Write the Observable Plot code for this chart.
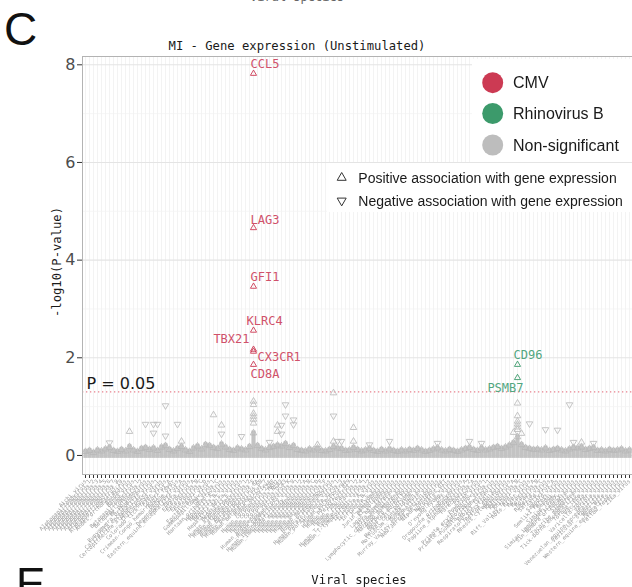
<!DOCTYPE html>
<html><head><meta charset="utf-8">
<script src="https://cdn.jsdelivr.net/npm/d3@7"></script>
<script src="https://cdn.jsdelivr.net/npm/@observablehq/plot@0.6"></script>
<style>
html,body{margin:0;padding:0;background:#fff;overflow:hidden;width:632px;height:587px;}
#wrap{position:relative;width:632px;height:587px;overflow:hidden;}
#wrap > svg{position:absolute;left:0;top:0;}
.abs{position:absolute;white-space:nowrap;line-height:1;}
</style></head><body><div id="wrap"></div>
<script>
// ---------- data ----------
const species = [
"Aichi_virus","Alphapapillomavirus_1","Alphapapillomavirus_2","Alphapapillomavirus_3","Alphapapillomavirus_4",
"Alphapapillomavirus_5","Alphapapillomavirus_6","Alphapapillomavirus_7","Alphapapillomavirus_9","Alphapapillomavirus_10",
"Andes_orthohantavirus","Bandavirus","Banna_virus","Betapapillomavirus_1","Betapapillomavirus_2",
"BK_polyomavirus","Bunyamwera_orthobunyavirus","California_encephalitis_virus","Cercopithecine_alphaherpesvirus_1","Chikungunya_virus",
"Colorado_tick_fever_virus","Cosavirus_A","Crimean-Congo_hemorrhagic_fever","Dengue_virus","Dependoparvovirus_A",
"Eastern_equine_encephalitis_virus","Ebola_virus","Enterovirus_A","Enterovirus_B","Enterovirus_C",
"Enterovirus_D","Epstein-Barr_virus","Gammapapillomavirus_1","GB_virus_C","Hantaan_orthohantavirus",
"Hepatitis_A_virus","Hepatitis_B_virus","Hepatitis_C_virus","Hepatitis_delta_virus","Hepatitis_E_virus",
"Human_alphaherpesvirus_1","Human_alphaherpesvirus_2","Human_betaherpesvirus_5","Human_betaherpesvirus_6A","Human_betaherpesvirus_6B",
"Human_betaherpesvirus_7","Human_bocavirus","Human_coronavirus_229E","Human_coronavirus_HKU1","Human_coronavirus_NL63",
"Human_coronavirus_OC43","Human_endogenous_retrovirus_K","Human_gammaherpesvirus_8","Human_immunodeficiency_virus_1","Human_immunodeficiency_virus_2",
"Human_mastadenovirus_A","Human_mastadenovirus_B","Human_mastadenovirus_C","Human_mastadenovirus_D","Human_mastadenovirus_E",
"Human_mastadenovirus_F","Human_metapneumovirus","Human_orthopneumovirus","Human_parainfluenza_virus_1","Human_parainfluenza_virus_3",
"Human_parechovirus","Human_parvovirus_B19","Human_respirovirus_1","Human_rubulavirus_2","Human_rubulavirus_4",
"Human_T-lymphotropic_virus_1","Human_T-lymphotropic_virus_2","Influenza_A_virus","Influenza_B_virus","Influenza_C_virus",
"JC_polyomavirus","Junin_mammarenavirus","KI_polyomavirus","Lagos_bat_lyssavirus","Lassa_mammarenavirus",
"Lymphocytic_choriomeningitis_virus","Machupo_mammarenavirus","Marburg_marburgvirus","Measles_morbillivirus","Merkel_cell_polyomavirus",
"Molluscum_contagiosum_virus","Mumps_rubulavirus","Murray_Valley_encephalitis_virus","New_Jersey_vesiculovirus","Nipah_henipavirus",
"Norovirus_GII","Norwalk_virus","O'nyong-nyong_virus","Orf_virus","Oropouche_orthobunyavirus",
"Orthohepevirus_A","Papiine_alphaherpesvirus_2","Parechovirus_A","Poliovirus","Powassan_virus",
"Primate_erythroparvovirus_1","Primate_T-lymphotropic_virus_1","Puumala_orthohantavirus","Rabies_lyssavirus","Respiratory_syncytial_virus",
"Reston_ebolavirus","Rhesus_cytomegalovirus","Rhinovirus_A","Rhinovirus_B","Rhinovirus_C",
"Rift_Valley_fever_virus","Ross_River_virus","Rotavirus_A","Rotavirus_B","Rotavirus_C",
"Rubella_virus","Saffold_virus","Salivirus_A","Sapporo_virus","Semliki_Forest_virus",
"Sendai_virus","Simian_foamy_virus","Simian_immunodeficiency_virus","Sin_Nombre_orthohantavirus","Sindbis_virus",
"Tacaribe_mammarenavirus","Tick-borne_encephalitis_virus","Torque_teno_virus","Vaccinia_virus","Varicella-zoster_virus",
"Variola_virus","Venezuelan_equine_encephalitis_virus","Vesicular_stomatitis_virus","West_Nile_virus","Western_equine_encephalitis_virus",
"Yellow_fever_virus","Zika_virus"
];

// top of the dense cloud of non-significant genes for each species (-log10 P)
const bandTop = [
0.12,0.14,0.10,0.15,0.13,0.17,0.20,0.14,0.12,0.16,
0.13,0.22,0.15,0.12,0.18,0.20,0.16,0.19,0.14,0.21,
0.24,0.16,0.13,0.18,0.22,0.15,0.12,0.19,0.23,0.17,
0.26,0.24,0.20,0.18,0.27,0.21,0.16,0.14,0.19,0.17,
0.15,0.22,0.50,0.24,0.18,0.15,0.20,0.22,0.25,0.23,
0.28,0.20,0.24,0.16,0.14,0.13,0.17,0.15,0.19,0.14,
0.13,0.16,0.22,0.19,0.18,0.14,0.15,0.20,0.16,0.13,
0.15,0.18,0.14,0.12,0.16,0.13,0.17,0.14,0.12,0.15,
0.13,0.16,0.14,0.18,0.15,0.12,0.14,0.17,0.19,0.15,
0.13,0.16,0.14,0.12,0.15,0.18,0.20,0.16,0.14,0.19,
0.15,0.17,0.20,0.22,0.18,0.21,0.25,0.30,0.42,0.26,
0.20,0.18,0.16,0.17,0.15,0.19,0.14,0.16,0.18,0.15,
0.13,0.17,0.20,0.19,0.21,0.16,0.18,0.20,0.14,0.15,
0.13,0.16,0.14,0.15,0.17,0.13,0.15
];

// non-significant genes standing out above the cloud
const nsSpecies = [
"Alphapapillomavirus_6","Bandavirus","BK_polyomavirus","California_encephalitis_virus","California_encephalitis_virus",
"Cercopithecine_alphaherpesvirus_1","Colorado_tick_fever_virus","Colorado_tick_fever_virus","Dengue_virus","Dependoparvovirus_A",
"Gammapapillomavirus_1","Hantaan_orthohantavirus","Hantaan_orthohantavirus","Hepatitis_E_virus",
"Human_betaherpesvirus_5","Human_betaherpesvirus_5","Human_betaherpesvirus_5","Human_betaherpesvirus_5","Human_betaherpesvirus_5","Human_betaherpesvirus_5",
"Human_bocavirus","Human_coronavirus_HKU1","Human_coronavirus_HKU1","Human_coronavirus_NL63","Human_coronavirus_NL63",
"Human_coronavirus_OC43","Human_coronavirus_OC43","Human_gammaherpesvirus_8","Human_gammaherpesvirus_8","Human_mastadenovirus_D",
"Human_orthopneumovirus","Human_orthopneumovirus","Human_orthopneumovirus","Human_parainfluenza_virus_1","Human_parainfluenza_virus_3",
"Human_respirovirus_1","Human_respirovirus_1","Human_T-lymphotropic_virus_2","Junin_mammarenavirus","New_Jersey_vesiculovirus",
"Papiine_alphaherpesvirus_2","Powassan_virus","Rhinovirus_A",
"Rhinovirus_B","Rhinovirus_B","Rhinovirus_B","Rhinovirus_B","Rhinovirus_B","Rhinovirus_B",
"Rhinovirus_C","Ross_River_virus","Rubella_virus","Sapporo_virus","Simian_foamy_virus",
"Simian_immunodeficiency_virus","Sindbis_virus","Torque_teno_virus"
];
const nsValue = [
0.26,0.49,0.64,0.64,0.46,
0.64,1.02,0.40,0.64,0.29,
0.83,0.62,0.44,0.39,
1.11,1.04,0.86,0.80,0.74,0.66,
0.27,0.62,0.49,0.62,0.44,
1.04,0.81,0.73,0.63,0.22,
1.28,0.81,0.29,0.29,0.29,
0.57,0.29,0.22,0.29,0.25,
0.29,0.25,0.47,
1.07,0.81,0.70,0.64,0.58,0.53,
0.45,0.65,0.53,0.52,1.04,
0.27,0.27,0.25
];
const nsDir = [
"down","up","down","down","down",
"down","down","down","down","up",
"up","up","down","down",
"up","up","up","up","up","up",
"down","up","up","down","down",
"down","down","down","down","up",
"up","down","up","down","down",
"up","up","down","down","down",
"down","down","up",
"up","up","up","up","up","up",
"up","down","down","down","down",
"down","up","down"
];

// significant genes
const sigGene  = ["CCL5","LAG3","GFI1","KLRC4","TBX21","CX3CR1","CD8A","CD96","PSMB7"];
const sigVirus = ["CMV","CMV","CMV","CMV","CMV","CMV","CMV","Rhinovirus B","Rhinovirus B"];
const sigValue = [7.82,4.66,3.46,2.56,2.17,2.13,1.86,1.86,1.59];
const sigDir   = ["up","up","up","up","up","up","up","up","up"];
const virusSpecies = {"CMV":"Human_betaherpesvirus_5","Rhinovirus B":"Rhinovirus_B"};

const legendColor = ["CMV","Rhinovirus B","Non-significant"];
const legendShape = ["Positive association with gene expression","Negative association with gene expression"];
const yTicks = [0,2,4,6,8];
const yMinor = [1,3,5,7];
const pThreshold = 0.05;

// ---------- styles ----------
const colors = {"CMV":"#cc3a53","Rhinovirus B":"#3c9a6b","Non-significant":"#bdbdbd"};
const labelColors = {"CMV":"#d0516a","Rhinovirus B":"#52a67f"};
const labelNudge = {
  CCL5:[-3,-9,"start"], LAG3:[-3,-8,"start"], GFI1:[-3,-9,"start"], KLRC4:[-7,-9,"start"],
  TBX21:[-4,-10,"end"], CX3CR1:[4,6,"start"], CD8A:[-3,10,"start"],
  CD96:[-4,-9,"start"], PSMB7:[6,10,"end"]
};
const mono = "DejaVu Sans Mono";

const triUp = {draw(ctx, size){const s=Math.sqrt(size)*1.08,h=s*Math.sqrt(3)/2;ctx.moveTo(0,-2*h/3);ctx.lineTo(s/2,h/3);ctx.lineTo(-s/2,h/3);ctx.closePath();}};
const triDown = {draw(ctx, size){const s=Math.sqrt(size)*1.08,h=s*Math.sqrt(3)/2;ctx.moveTo(0,2*h/3);ctx.lineTo(s/2,-h/3);ctx.lineTo(-s/2,-h/3);ctx.closePath();}};

// ---------- build ----------
const bandRows = species.map((s,i)=>({species:s, top:bandTop[i]}));
const nsRows = nsSpecies.map((s,i)=>({species:s, value:nsValue[i], dir:nsDir[i]}));
const sigRows = sigGene.map((g,i)=>({gene:g, virus:sigVirus[i], species:virusSpecies[sigVirus[i]], value:sigValue[i], dir:sigDir[i]}));
const threshold = -Math.log10(pThreshold);

const W = 632, H = 587, mL = 82, mR = 0, mT = 56, mB = 113;
const step = (W - mL - mR) / (species.length - 1 + 1.2);

const marks = [
  Plot.gridX({ticks: species, stroke:"#ebebeb", strokeOpacity:1, strokeWidth:0.6}),
  Plot.gridY({ticks: yMinor, stroke:"#f2f2f2", strokeOpacity:1, strokeWidth:0.7}),
  Plot.gridY({ticks: yTicks, stroke:"#e4e4e4", strokeOpacity:1, strokeWidth:1.1}),
  Plot.ruleX(bandRows, {x:"species", y1:() => -0.06, y2:"top", stroke:"#c3c3c3", strokeWidth:step+0.15}),
  Plot.dot(bandRows, {x:"species", y:"top", symbol:triUp, r:3.4, stroke:"#b8b8b8", strokeWidth:0.8, dy:2}),
  Plot.ruleY([threshold], {stroke:"#e8808d", strokeWidth:1.3, strokeDasharray:"1.3,2.7"}),
  Plot.dot(nsRows.filter(d=>d.dir==="up"), {x:"species", y:"value", symbol:triUp, r:3.4, stroke:colors["Non-significant"], strokeWidth:0.9}),
  Plot.dot(nsRows.filter(d=>d.dir==="down"), {x:"species", y:"value", symbol:triDown, r:3.4, stroke:colors["Non-significant"], strokeWidth:0.9}),
];
for (const v of ["CMV","Rhinovirus B"]) {
  for (const dir of ["up","down"]) {
    const rows = sigRows.filter(d=>d.virus===v && d.dir===dir);
    if (rows.length) marks.push(Plot.dot(rows, {x:"species", y:"value", symbol: dir==="up"?triUp:triDown, r:3.2, stroke:colors[v], strokeWidth:0.9}));
  }
}
for (const r of sigRows) {
  const [dx,dy,anchor] = labelNudge[r.gene];
  marks.push(Plot.text([r], {x:"species", y:"value", text:"gene", dx, dy, textAnchor:anchor, fill:labelColors[r.virus], fontFamily:mono, fontSize:12}));
}
marks.push(
  Plot.text([`P = ${pThreshold}`], {frameAnchor:"left", y:() => threshold, text:d=>d, textAnchor:"start", dx:4, dy:-8, fontSize:16, fill:"#1a1a1a", fontFamily:"DejaVu Sans"}),
  Plot.axisY({ticks: yTicks, tickSize:5, tickPadding:2, fontSize:16, fill:"#4d4d4d", stroke:"#333", label:null, fontFamily:"DejaVu Sans"}),
  Plot.axisX({ticks: species, tickSize:4, tickPadding:2, tickRotate:-45, fontSize:5.5, fill:"#9c9c9c", stroke:"#333", label:null, fontFamily:mono}),
  Plot.frame({stroke:"#b3b3b3", strokeWidth:1})
);

const chart = Plot.plot({
  width: W, height: H,
  marginLeft: mL, marginRight: mR, marginTop: mT, marginBottom: mB,
  x: {type:"point", domain: species, padding: 0.6, label: null},
  y: {domain: [-0.39, 8.17], label: null},
  style: {background:"transparent", fontFamily:"DejaVu Sans", overflow:"visible"},
  marks
});
const wrap = document.getElementById("wrap");
wrap.appendChild(chart);
// grayscale antialiasing for the tiny rotated tick labels
d3.select(chart).selectAll('g[aria-label="x-axis tick label"]').style("opacity", 0.99).style("will-change", "transform");

// ---------- overlays: titles and legends ----------
const html = [];
html.push(`<div class="abs" style="left:4px;top:2px;font:46px 'Liberation Sans',Arial,sans-serif;color:#111">C</div>`);
html.push(`<div class="abs" style="left:16px;top:559px;font:44px 'Liberation Sans',Arial,sans-serif;color:#111">E</div>`);
html.push(`<div class="abs" style="left:250px;top:-10px;font:12px '${mono}';color:#666">Viral species</div>`);
html.push(`<div class="abs" style="left:297px;top:46px;transform:translate(-50%,-50%);font:12.2px '${mono}';color:#1a1a1a">MI - Gene expression (Unstimulated)</div>`);
html.push(`<div class="abs" style="left:359px;top:580px;transform:translate(-50%,-50%);font:12.2px '${mono}';color:#1a1a1a">Viral species</div>`);
html.push(`<div class="abs" style="left:57px;top:262px;transform:translate(-50%,-50%) rotate(-90deg);font:12.2px '${mono}';color:#1a1a1a">-log10(P-value)</div>`);
// legend boxes
html.push(`<div class="abs" style="left:472px;top:59px;width:160px;height:103px;background:#fff"></div>`);
html.push(`<div class="abs" style="left:327px;top:163px;width:305px;height:49px;background:#fff"></div>`);
let svg = `<svg class="abs" style="left:0;top:0" width="${W}" height="${H}">`;
const cy = [82.7,113.5,145];
legendColor.forEach((k,i)=>{
  svg += `<circle cx="492.7" cy="${cy[i]}" r="10.5" fill="${colors[k]}"/>`;
  svg += `<text x="513" y="${cy[i]}" dominant-baseline="central" font-family="Liberation Sans, Arial, sans-serif" font-size="16" fill="#1a1a1a">${k}</text>`;
});
const sy = [177.7,200.7];
legendShape.forEach((k,i)=>{
  const s=9, h=s*Math.sqrt(3)/2, x=341.7, y=sy[i];
  const pts = i===0 ? `${x},${y-2*h/3} ${x+s/2},${y+h/3} ${x-s/2},${y+h/3}` : `${x},${y+2*h/3} ${x+s/2},${y-h/3} ${x-s/2},${y-h/3}`;
  svg += `<polygon points="${pts}" fill="none" stroke="#333" stroke-width="1"/>`;
  svg += `<text x="358.3" y="${y}" dominant-baseline="central" font-family="Liberation Sans, Arial, sans-serif" font-size="14" fill="#1a1a1a">${k}</text>`;
});
svg += `</svg>`;
html.push(svg);
wrap.insertAdjacentHTML("beforeend", html.join(""));
</script>
</body></html>
